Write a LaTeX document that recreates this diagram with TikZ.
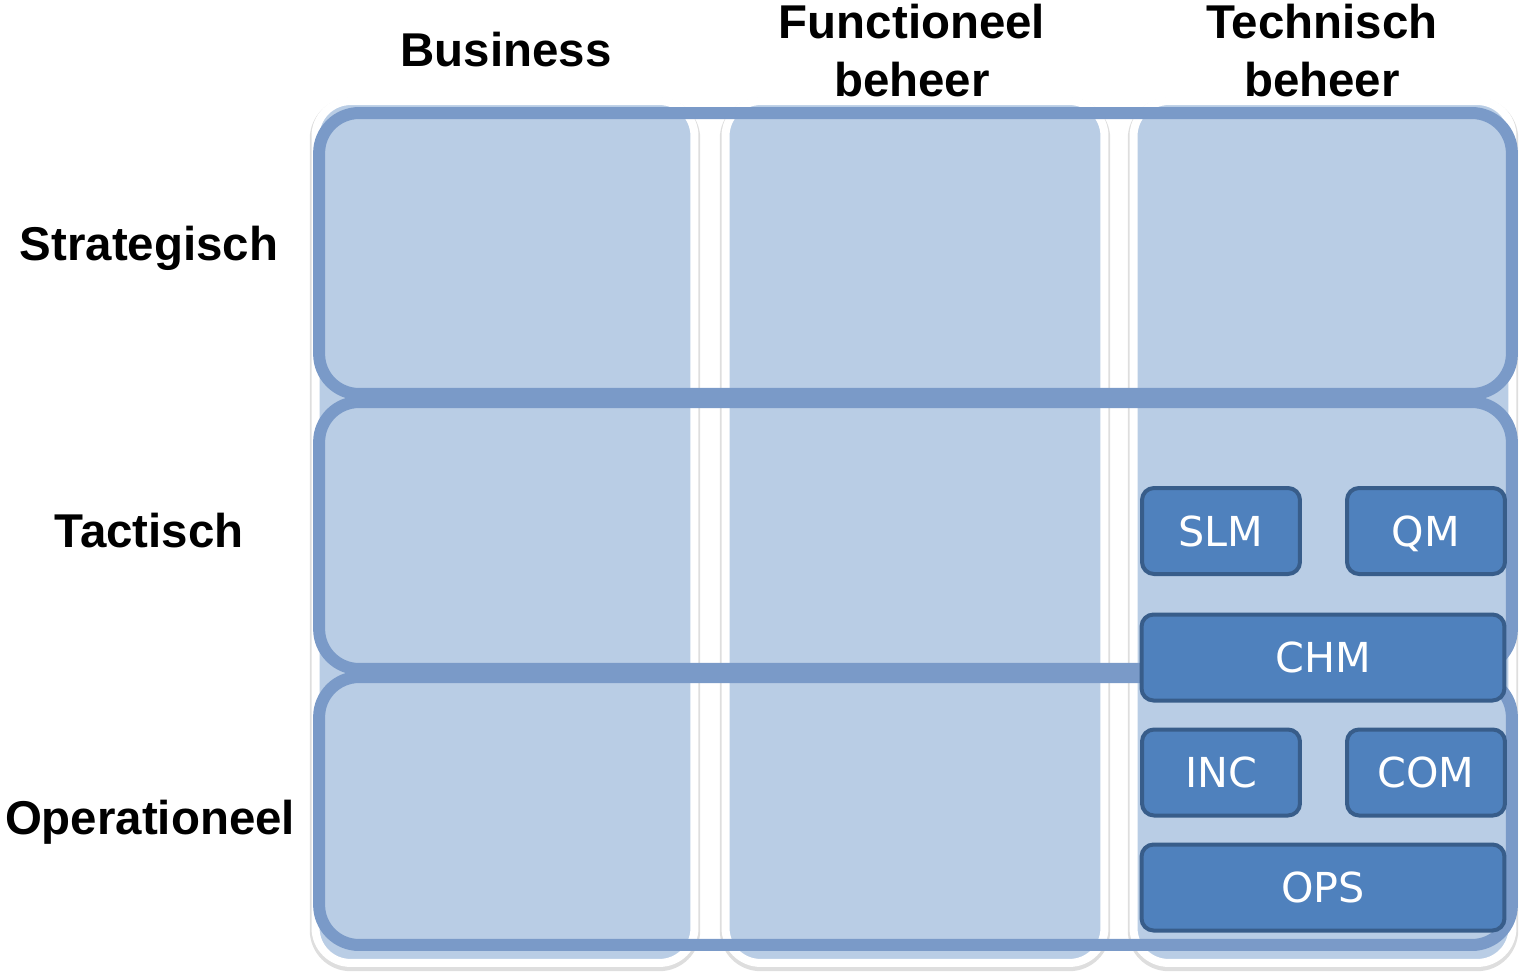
\documentclass[tikz,border=0pt]{standalone}
\usepackage{fontspec}
\setmainfont{Liberation Sans}
\newfontfamily\boxfont{DejaVu Sans}
\definecolor{colfill}{HTML}{B9CDE5}
\definecolor{rowline}{HTML}{7A9AC8}
\definecolor{procfill}{HTML}{4F81BD}
\definecolor{procline}{HTML}{385D8A}
\tikzstyle{column}=[draw=white, line width=0.16cm, fill=colfill,
  rounded corners=0.7cm, minimum width=7.58cm, minimum height=17.24cm,
  preaction={draw=black!13, line width=0.23cm,
    transform canvas={yshift=-0.05cm}}]
\tikzstyle{layer}=[draw=rowline, line width=0.24cm, rounded corners=0.8cm,
  minimum width=23.86cm]
\tikzstyle{proc}=[draw=procline, fill=procfill, line width=0.08cm,
  rounded corners=0.24cm, minimum height=1.72cm, text=white, text depth=0pt,
  font=\boxfont\fontsize{23.5}{28}\selectfont, inner sep=0pt]
\tikzstyle{small}=[proc, minimum width=3.16cm]
\tikzstyle{wide}=[proc, minimum width=7.26cm]
\tikzstyle{head}=[font=\bfseries\fontsize{27}{33}\selectfont, align=center,
  inner sep=0pt]

\begin{document}
\begin{tikzpicture}[x=0.02cm, y=-0.02cm]
  \useasboundingbox (0,0) rectangle (1519,971);

  % Columns
  \node (colBus) [column] at (505,532) {};
  \node (colFun) [column] at (915,532) {};
  \node (colTech) [column] at (1323,532) {};

  % Layers drawn over the columns
  \node (rowStrat) [layer, minimum height=5.62cm] at (915.5,253.5) {};
  \node (rowTact) [layer, minimum height=5.34cm] at (915.5,535.5) {};
  \node (rowOper) [layer, minimum height=5.36cm] at (915.5,811) {};

  % Processes of technisch beheer
  \node (slm) [small] at (1221,531) {SLM};
  \node (qm) [small] at (1426,531) {QM};
  \node (chm) [wide] at (1323,657.5) {CHM};
  \node (inc) [small] at (1221,772.5) {INC};
  \node (com) [small] at (1426,772.5) {COM};
  \node (ops) [wide] at (1323,887.5) {OPS};

  % Column headers
  \node (hBus) [head] at (506,50) {Business};
  \node (hFun) [head] at (912,51) {Functioneel\\beheer};
  \node (hTech) [head] at (1322,51) {Technisch\\beheer};

  % Layer labels
  \node (lStrat) [head] at (149,248) {Strategisch};
  \node (lTact) [head] at (149,531) {Tactisch};
  \node (lOper) [head] at (150,822) {Operationeel};
\end{tikzpicture}
\end{document}
